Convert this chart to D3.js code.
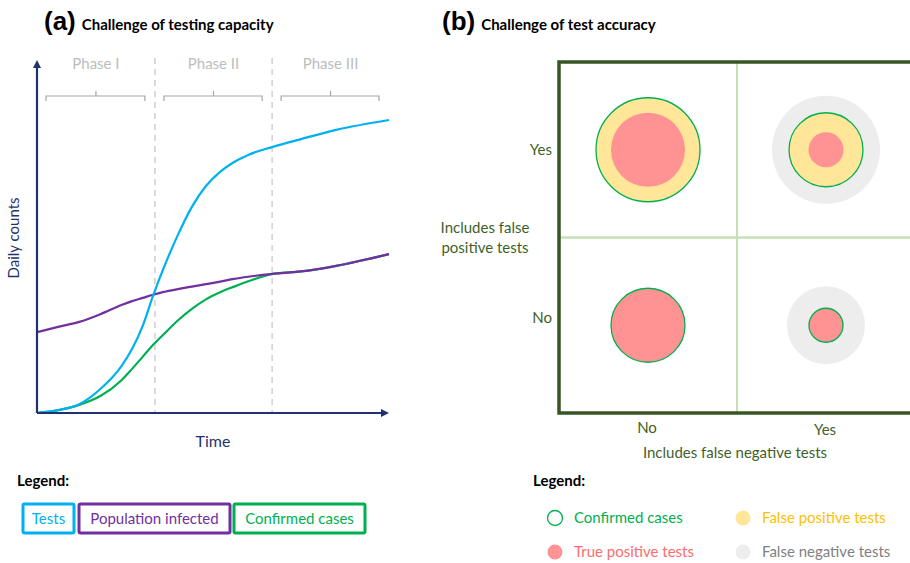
<!DOCTYPE html>
<html>
<head>
<meta charset="utf-8">
<script src="https://cdn.jsdelivr.net/npm/d3@7"></script>
<style>
  body { margin: 0; background: #fff; }
  text { font-family: Lato, "Open Sans", sans-serif; }
</style>
</head>
<body>
<div id="container"></div>
<script>
/* CONSTANTS AND GLOBALS */
const width = 910,
    height = 563;

// panel (a) data, time in arbitrary units 0..100, counts 0..100
const time = [0, 6, 12, 18, 24, 27, 30, 33, 36, 40, 44, 48, 52, 56, 60, 67, 75, 85, 100]
const tests = [0, 0.8, 2.5, 6.8, 13.3, 18.1, 24.6, 33.3, 41.1, 50.4, 58.4, 64.3, 68.3, 71.1, 73.1, 75.4, 77.6, 80.2, 83.0]
const infected = [22.9, 24.4, 25.8, 28.0, 30.6, 31.7, 32.6, 33.5, 34.3, 35.1, 35.8, 36.5, 37.2, 38.0, 38.6, 39.4, 40.1, 41.7, 45.0]
const confirmed = [0, 0.8, 2.3, 4.8, 9.3, 12.5, 15.9, 19.3, 22.3, 26.2, 29.5, 32.2, 34.2, 35.8, 37.3, 39.4, 40.1, 41.7, 45.0]
const phaseNames = ["Phase I", "Phase II", "Phase III"]
const phaseBreaks = [0, 33.5, 66.8, 100]

// panel (b) data: one entry per cell
const falsePosCat = ["Yes", "Yes", "No", "No"]
const falseNegCat = ["No", "Yes", "No", "Yes"]
const rConfirmed = [52, 37, 37, 17]
const rTruePos = [37, 17.5, 37, 17]
const rFalseNeg = [0, 54, 0, 39]
const yesNo = ["No", "Yes"]

const navy = "#1f3270"
const colBlue = "#00b0f0", colPurple = "#7030a0", colGreen = "#00b050"
const olive = "#3f5f2a"

const svg = d3.select("#container")
    .append("svg")
    .attr("width", width)
    .attr("height", height)

// TITLES
function title(x, letter, txt) {
    const t = svg.append("text").attr("x", x).attr("y", 30).style("font-weight", "bold")
    t.append("tspan").style("font-size", "26px").style("font-family", "'Liberation Sans', Arial, sans-serif").text(letter)
    t.append("tspan").attr("dx", 6).style("font-size", "15px").text(txt)
}
title(44, "(a)", "Challenge of testing capacity")
title(442, "(b)", "Challenge of test accuracy")

/* PANEL A */
const xScale = d3.scaleLinear().domain([0, 100]).range([37, 389])
const yScale = d3.scaleLinear().domain([0, 100]).range([413, 60])

// phase dashed lines
svg.selectAll(".phaseLine")
    .data(phaseBreaks.slice(1, 3))
    .join("line")
    .attr("x1", d => xScale(d)).attr("x2", d => xScale(d))
    .attr("y1", 58).attr("y2", 413)
    .attr("stroke", "#d0d0d0")
    .attr("stroke-width", 1.5)
    .attr("stroke-dasharray", "6,5")

// phase labels + brackets
phaseNames.forEach((name, i) => {
    const a = xScale(phaseBreaks[i]) + 9, b = xScale(phaseBreaks[i + 1]) - 10
    const m = (xScale(phaseBreaks[i]) + xScale(phaseBreaks[i + 1])) / 2
    svg.append("text")
        .attr("x", m).attr("y", 69)
        .attr("text-anchor", "middle")
        .style("font-size", "15px")
        .attr("fill", "#bdbdbd")
        .text(name)
    svg.append("path")
        .attr("d", `M${a},101 L${a},96 L${b},96 L${b},101 M${m},96 L${m},91`)
        .attr("fill", "none")
        .attr("stroke", "#a6a6a6")
        .attr("stroke-width", 1.2)
})

// LINES
const line = d3.line()
    .x((d, i) => xScale(time[i]))
    .y(d => yScale(d))
    .curve(d3.curveMonotoneX)

svg.append("path").datum(confirmed).attr("d", line)
    .attr("fill", "none").attr("stroke", colGreen).attr("stroke-width", 2.2)
svg.append("path").datum(infected).attr("d", line)
    .attr("fill", "none").attr("stroke", colPurple).attr("stroke-width", 2.2)
svg.append("path").datum(tests).attr("d", line)
    .attr("fill", "none").attr("stroke", colBlue).attr("stroke-width", 2.2)

// AXES (arrows)
svg.append("line").attr("x1", xScale(0)).attr("x2", xScale(0))
    .attr("y1", yScale(0)).attr("y2", yScale(100) + 6)
    .attr("stroke", navy).attr("stroke-width", 2.2)
svg.append("path")
    .attr("d", `M${xScale(0) - 4},${yScale(100) + 8} L${xScale(0)},${yScale(100)} L${xScale(0) + 4},${yScale(100) + 8} Z`)
    .attr("fill", navy)
svg.append("line").attr("x1", xScale(0)).attr("x2", xScale(100) - 6)
    .attr("y1", yScale(0)).attr("y2", yScale(0))
    .attr("stroke", navy).attr("stroke-width", 2.2)
svg.append("path")
    .attr("d", `M${xScale(100) - 8},${yScale(0) - 4} L${xScale(100)},${yScale(0)} L${xScale(100) - 8},${yScale(0) + 4} Z`)
    .attr("fill", navy)

svg.append("text")
    .attr("transform", "translate(19,238) rotate(-90)")
    .attr("text-anchor", "middle")
    .style("font-size", "15px")
    .attr("fill", navy)
    .text("Daily counts")

svg.append("text")
    .attr("x", 213).attr("y", 447)
    .attr("text-anchor", "middle")
    .style("font-size", "16px")
    .attr("fill", navy)
    .text("Time")

// LEGEND A
svg.append("text").attr("x", 17).attr("y", 486)
    .style("font-size", "15px").style("font-weight", "bold").text("Legend:")

const legA = [
    { name: "Tests", col: colBlue, x: 23, w: 51 },
    { name: "Population infected", col: colPurple, x: 79, w: 151 },
    { name: "Confirmed cases", col: colGreen, x: 234, w: 131 }
]
legA.forEach(d => {
    svg.append("rect").attr("x", d.x).attr("y", 504).attr("width", d.w).attr("height", 29)
        .attr("rx", 1.5).attr("fill", "none").attr("stroke", d.col).attr("stroke-width", 3)
    svg.append("text").attr("x", d.x + d.w / 2).attr("y", 524)
        .attr("text-anchor", "middle").style("font-size", "15px").attr("fill", d.col).text(d.name)
})

/* PANEL B */
const xb = d3.scaleBand().domain(yesNo).range([559, 915])
const yb = d3.scaleBand().domain(["Yes", "No"]).range([62, 413])
const rScale = d3.scaleLinear().domain([0, 60]).range([0, 60])

const cells = falsePosCat.map((fp, i) => ({
    cx: xb(falseNegCat[i]) + xb.bandwidth() / 2,
    cy: yb(fp) + yb.bandwidth() / 2,
    conf: rConfirmed[i], tp: rTruePos[i], fn: rFalseNeg[i]
}))

// inner grid lines
svg.append("line").attr("x1", xb("Yes")).attr("x2", xb("Yes"))
    .attr("y1", 62).attr("y2", 413).attr("stroke", "#c5e0b4").attr("stroke-width", 2)
svg.append("line").attr("x1", 559).attr("x2", 915)
    .attr("y1", yb("No")).attr("y2", yb("No")).attr("stroke", "#c5e0b4").attr("stroke-width", 2.5)

svg.selectAll(".fn").data(cells).join("circle")
    .attr("cx", d => d.cx).attr("cy", d => d.cy).attr("r", d => rScale(d.fn))
    .attr("fill", "#ededed")
svg.selectAll(".fp").data(cells).join("circle")
    .attr("cx", d => d.cx).attr("cy", d => d.cy).attr("r", d => rScale(d.conf))
    .attr("fill", "#ffe699")
svg.selectAll(".tp").data(cells).join("circle")
    .attr("cx", d => d.cx).attr("cy", d => d.cy).attr("r", d => rScale(d.tp))
    .attr("fill", "#ff9393")
svg.selectAll(".conf").data(cells).join("circle")
    .attr("cx", d => d.cx).attr("cy", d => d.cy).attr("r", d => rScale(d.conf))
    .attr("fill", "none").attr("stroke", colGreen).attr("stroke-width", 1.3)

// outer border
svg.append("rect").attr("x", 559).attr("y", 62).attr("width", 356).attr("height", 351)
    .attr("fill", "none").attr("stroke", "#375623").attr("stroke-width", 3.5)

// labels
yesNo.forEach(d => {
    svg.append("text")
        .attr("x", 552).attr("y", yb(d) + yb.bandwidth() / 2 + (d === "No" ? -8 : 0))
        .attr("dy", "0.35em").attr("text-anchor", "end")
        .style("font-size", "15px").attr("fill", olive).text(d)
    svg.append("text")
        .attr("x", xb(d) + xb.bandwidth() / 2 - 1).attr("y", d === "No" ? 433 : 435)
        .attr("text-anchor", "middle")
        .style("font-size", "15px").attr("fill", olive).text(d)
})
svg.append("text").attr("x", 485).attr("y", 233).attr("text-anchor", "middle")
    .style("font-size", "15px").attr("fill", olive).text("Includes false")
svg.append("text").attr("x", 485).attr("y", 253).attr("text-anchor", "middle")
    .style("font-size", "15px").attr("fill", olive).text("positive tests")
svg.append("text").attr("x", 735).attr("y", 458).attr("text-anchor", "middle")
    .style("font-size", "15px").attr("fill", olive).text("Includes false negative tests")

// LEGEND B
svg.append("text").attr("x", 533).attr("y", 486)
    .style("font-size", "15px").style("font-weight", "bold").text("Legend:")

const legB = [
    { name: "Confirmed cases", fill: "none", stroke: colGreen, text: colGreen, x: 555, y: 518 },
    { name: "False positive tests", fill: "#ffe699", stroke: "none", text: "#ffc000", x: 743, y: 518 },
    { name: "True positive tests", fill: "#ff9393", stroke: "none", text: "#ff6b6b", x: 555, y: 552 },
    { name: "False negative tests", fill: "#ededed", stroke: "none", text: "#808080", x: 743, y: 552 }
]
legB.forEach(d => {
    svg.append("circle").attr("cx", d.x).attr("cy", d.y).attr("r", 7.5)
        .attr("fill", d.fill).attr("stroke", d.stroke).attr("stroke-width", 1.3)
    svg.append("text").attr("x", d.x + 19).attr("y", d.y).attr("dy", "0.35em")
        .style("font-size", "15px").attr("fill", d.text).text(d.name)
})
</script>
</body>
</html>
